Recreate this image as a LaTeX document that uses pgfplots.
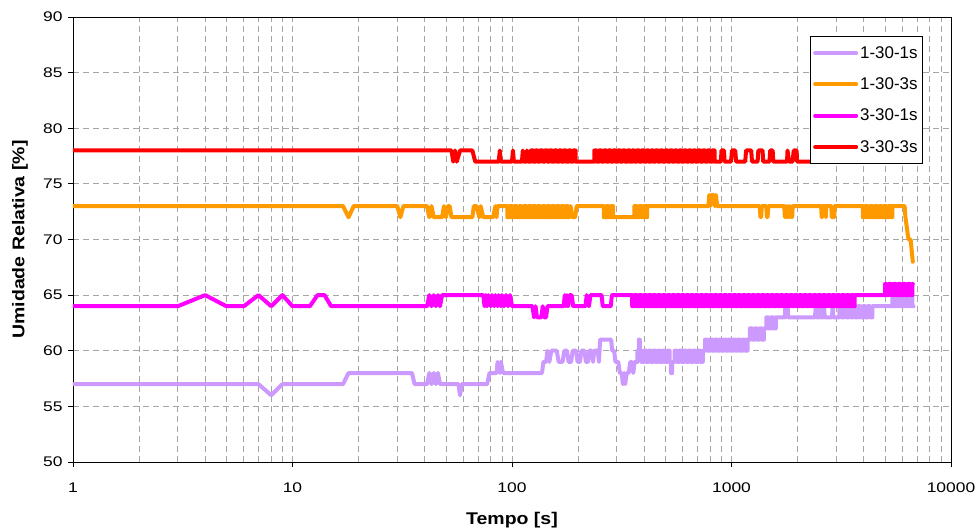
\documentclass[border=0pt]{standalone}
\usepackage{fontspec}
\setmainfont{Liberation Sans}
\newfontfamily\tickfont{Liberation Sans}[FakeStretch=1.25]
\newfontfamily\labelfont{Liberation Sans}[FakeStretch=1.15]
\usepackage{pgfplots}
\pgfplotsset{compat=1.18}
\definecolor{cLav}{HTML}{CC99FF}
\definecolor{cOra}{HTML}{FF9900}
\definecolor{cPin}{HTML}{FF00FF}
\definecolor{cRed}{HTML}{FF0000}
\definecolor{cGrid}{HTML}{A6A6A6}
\begin{document}
\begin{tikzpicture}
\path[use as bounding box] (-73bp,-69bp) rectangle (903bp,462bp);
\begin{axis}[
  scale only axis, width=878bp, height=445bp,
  at={(0,0)}, anchor=south west,
  xmode=log, xmin=1, xmax=10000, ymin=50, ymax=90,
  xtick={1,10,100,1000,10000}, xticklabels={1,10,100,1000,10000},
  ytick={50,55,60,65,70,75,80,85,90},
  /pgf/number format/assume math mode=true,
  tick label style={font=\tickfont\fontsize{14}{16}\selectfont, black},
  xticklabel style={yshift=-12bp},
  yticklabel style={xshift=-2bp},
  tick pos=left, tick align=outside, major tick length=5bp, minor tick length=0bp,
  tick style={black, line width=0.8bp},
  axis line style={black, line width=0.9bp},
  xmajorgrids=true, xminorgrids=true, ymajorgrids=true,
  major grid style={cGrid, line width=0.8bp, dash pattern=on 6bp off 4bp},
  minor grid style={cGrid, line width=0.8bp, dash pattern=on 6bp off 4bp},
  xlabel={Tempo [s]}, ylabel={Umidade Relativa [\%]},
  label style={font=\labelfont\bfseries\fontsize{17}{20}\selectfont},
  xlabel style={at={(axis description cs:0.5,-0.1303)}, anchor=center},
  ylabel style={at={(axis description cs:-0.0604,0.5)}, anchor=center},
  legend style={at={(rel axis cs:0.9681,0.9573)}, anchor=north east, draw=black, fill=white,
    line width=0.8bp, font=\fontsize{17}{20}\selectfont, inner xsep=3bp, inner ysep=8bp,
    row sep=14bp, nodes={inner sep=2bp}},
  legend cell align=left,
  legend image code/.code={\draw[#1] (0bp,0bp) -- (41bp,0bp);},
  every axis plot/.append style={line width=4bp, line join=round, line cap=round},
]
\addplot[cLav] coordinates {(1,57)(7,57)(8,56)(9,57)(17,57)(18,58)(35,58)(36,57)(41,57)(42,58)(43,57)(44,58)(45,57)(46,58)(47,57)(57,57)(58,56)(59,57)(77,57)(79,58)(85,58)(86,59)(88,58)(89,59)(91,58)(137,58)(139,59)(143,59)(145,60)(148,59)(151,60)(160,60)(163,59)(170,59)(173,60)(178,60)(181,59)(186,59)(189,60)(196,60)(199,59)(204,59)(207,60)(214,60)(217,59)(222,59)(225,60)(231,60)(234,59)(237,60)(246,60)(249,59)(252,61)(283,61)(286,60)(292,60)(296,59)(305,59)(310,58)(316,58)(320,57)(324,58)(328,57)(333,58)(340,58)(346,59)(352,59)(357,58)(362,59)(368,59)(373,59)(373,60)(378,60)(378,61)(382,61)(382,60)(389,60)(389,59)(399,59)(399,60)(409,60)(409,59)(419,59)(419,60)(430,60)(430,59)(440,59)(440,60)(451,60)(451,59)(463,59)(463,60)(474,60)(474,59)(486,59)(486,60)(498,60)(498,59)(511,59)(511,60)(523,60)(523,59)(530,59)(530,58)(537,58)(537,59)(550,59)(550,60)(564,60)(564,59)(578,59)(578,60)(592,60)(592,59)(607,59)(607,60)(622,60)(622,59)(638,59)(638,60)(654,60)(654,59)(670,59)(670,60)(687,60)(687,59)(704,59)(704,60)(722,60)(722,59)(740,59)(740,60)(758,60)(758,61)(777,61)(777,60)(797,60)(797,61)(817,61)(817,60)(837,60)(837,61)(858,61)(858,60)(879,60)(879,61)(901,61)(901,60)(924,60)(924,61)(947,61)(947,60)(971,60)(971,61)(995,61)(995,60)(1020,60)(1020,61)(1045,61)(1045,60)(1072,60)(1072,61)(1098,61)(1098,60)(1126,60)(1126,61)(1154,61)(1154,60)(1183,60)(1183,61)(1212,61)(1212,62)(1243,62)(1243,61)(1274,61)(1274,62)(1306,62)(1306,61)(1338,61)(1338,62)(1372,62)(1372,61)(1406,61)(1406,62)(1441,62)(1441,63)(1477,63)(1477,62)(1514,62)(1514,63)(1552,63)(1552,62)(1591,62)(1591,63)(1750,63)(1760,64)(1775,63)(1800,64)(1815,63)(2400,63)(2420,64)(2440,63)(2500,63)(2520,64)(2540,63)(2620,63)(2640,64)(2660,63)(2870,63)(2890,64)(2910,63)(3099,63)(3099,64)(3176,64)(3176,63)(3256,63)(3256,64)(3337,64)(3337,63)(3420,63)(3420,64)(3506,64)(3506,63)(3594,63)(3594,64)(3684,64)(3684,63)(3776,63)(3776,64)(3870,64)(3870,63)(3967,63)(3967,64)(4066,64)(4066,63)(4168,63)(4168,64)(4272,64)(4272,63)(4379,63)(4379,64)(5400,64)(5400,65)(5468,65)(5468,64)(5605,64)(5605,65)(5745,65)(5745,64)(5889,64)(5889,65)(6036,65)(6036,64)(6187,64)(6187,65)(6342,65)(6342,64)(6500,64)(6500,65)(6663,65)(6663,64)(6750,64)};
\addlegendentry{1-30-1s}
\addplot[cOra] coordinates {(1,73)(17,73)(18,72)(19,73)(30,73)(31,72)(32,73)(41,73)(42,72)(43,73)(44,72)(48,72)(49,73)(50,72)(51,73)(52,73)(53,72)(66,72)(67,73)(69,73)(71,72)(72,73)(74,72)(82,72)(84,73)(85,72)(86,73)(95.3,73)(95.3,72)(97.6,72)(97.6,73)(100,73)(100,72)(102.5,72)(102.5,73)(105,73)(105,72)(108,72)(108,73)(110,73)(110,72)(113,72)(113,73)(116,73)(116,72)(119,72)(119,73)(122,73)(122,72)(125,72)(125,73)(128,73)(128,72)(131,72)(131,73)(134,73)(134,72)(138,72)(138,73)(141,73)(141,72)(145,72)(145,73)(148,73)(148,72)(152,72)(152,73)(156,73)(156,72)(160,72)(160,73)(164,73)(164,72)(168,72)(168,73)(172,73)(172,72)(176,72)(176,73)(180,73)(180,72)(183,72)(185,73)(188,72)(194,72)(197,73)(262,73)(262,72)(269,72)(269,73)(275,73)(275,72)(282,72)(282,73)(289,73)(289,72)(361,72)(361,73)(370,73)(370,72)(380,72)(380,73)(389,73)(389,72)(399,72)(399,73)(409,73)(409,72)(413,72)(413,73)(785,73)(792,74)(800,73)(810,74)(830,74)(840,73)(850,74)(860,73)(1345,73)(1355,72)(1365,72)(1375,73)(1440,73)(1450,72)(1460,72)(1470,73)(1740,73)(1750,72)(1770,73)(1790,72)(1810,73)(1830,72)(1850,73)(1870,72)(1890,72)(1900,73)(2560,73)(2575,72)(2590,72)(2600,73)(2680,73)(2690,72)(2700,73)(2850,73)(2860,72)(2940,72)(2950,73)(3967,73)(3967,72)(4066,72)(4066,73)(4168,73)(4168,72)(4272,72)(4272,73)(4379,73)(4379,72)(4488,72)(4488,73)(4600,73)(4600,72)(4715,72)(4715,73)(4833,73)(4833,72)(4954,72)(4954,73)(5078,73)(5078,72)(5205,72)(5205,73)(5335,73)(5335,72)(5400,72)(5400,73)(6150,73)(6200,72)(6300,71)(6400,70)(6550,70)(6620,69)(6700,68)};
\addlegendentry{1-30-3s}
\addplot[cPin] coordinates {(1,64)(3,64)(4,65)(5,64)(6,64)(7,65)(8,64)(9,65)(10,64)(12,64)(13,65)(14,65)(15,64)(41,64)(42,65)(43,64)(44,65)(45,64)(46,65)(47,64)(48,65)(74,65)(75,64)(76,65)(77,64)(78,65)(80,64)(81,65)(83,64)(84,65)(86,64)(87,65)(89,64)(90,65)(92,64)(94,65)(96,64)(98,65)(100,64)(124,64)(126,63)(128,64)(130,63)(136,63)(138,64)(140,63)(143,63)(145,64)(172,64)(174,65)(176,64)(178,65)(180,64)(183,65)(187,65)(190,64)(216,64)(219,65)(224,64)(228,65)(256,65)(259,64)(282,64)(285,65)(345,65)(353,65)(353,64)(361,64)(361,65)(370,65)(370,64)(380,64)(380,65)(389,65)(389,64)(399,64)(399,65)(409,65)(409,64)(419,64)(419,65)(430,65)(430,64)(440,64)(440,65)(451,65)(451,64)(463,64)(463,65)(474,65)(474,64)(486,64)(486,65)(498,65)(498,64)(511,64)(511,65)(523,65)(523,64)(537,64)(537,65)(550,65)(550,64)(564,64)(564,65)(578,65)(578,64)(592,64)(592,65)(607,65)(607,64)(622,64)(622,65)(638,65)(638,64)(654,64)(654,65)(670,65)(670,64)(687,64)(687,65)(704,65)(704,64)(722,64)(722,65)(740,65)(740,64)(758,64)(758,65)(777,65)(777,64)(797,64)(797,65)(817,65)(817,64)(837,64)(837,65)(858,65)(858,64)(879,64)(879,65)(901,65)(901,64)(924,64)(924,65)(947,65)(947,64)(971,64)(971,65)(995,65)(995,64)(1020,64)(1020,65)(1045,65)(1045,64)(1072,64)(1072,65)(1098,65)(1098,64)(1126,64)(1126,65)(1154,65)(1154,64)(1183,64)(1183,65)(1212,65)(1212,64)(1243,64)(1243,65)(1274,65)(1274,64)(1306,64)(1306,65)(1338,65)(1338,64)(1372,64)(1372,65)(1406,65)(1406,64)(1441,64)(1441,65)(1477,65)(1477,64)(1514,64)(1514,65)(1552,65)(1552,64)(1591,64)(1591,65)(1631,65)(1631,64)(1671,64)(1671,65)(1713,65)(1713,64)(1756,64)(1756,65)(1800,65)(1800,64)(1845,64)(1845,65)(1891,65)(1891,64)(1938,64)(1938,65)(1987,65)(1987,64)(2037,64)(2037,65)(2087,65)(2087,64)(2140,64)(2140,65)(2193,65)(2193,64)(2248,64)(2248,65)(2304,65)(2304,64)(2362,64)(2362,65)(2421,65)(2421,64)(2481,64)(2481,65)(2543,65)(2543,64)(2607,64)(2607,65)(2672,65)(2672,64)(2739,64)(2739,65)(2807,65)(2807,64)(2878,64)(2878,65)(2950,65)(2950,64)(3023,64)(3023,65)(3099,65)(3099,64)(3176,64)(3176,65)(3256,65)(3256,64)(3337,64)(3337,65)(3420,65)(3420,64)(3506,64)(3506,65)(3594,65)(3594,64)(3640,64)(3640,65)(5004,65)(5004,66)(5078,66)(5078,65)(5205,65)(5205,66)(5335,66)(5335,65)(5468,65)(5468,66)(5605,66)(5605,65)(5745,65)(5745,66)(5889,66)(5889,65)(6036,65)(6036,66)(6187,66)(6187,65)(6342,65)(6342,66)(6500,66)(6500,65)(6663,65)(6663,66)(6700,66)};
\addlegendentry{3-30-1s}
\addplot[cRed] coordinates {(1,78)(53,78)(54,77)(55,78)(56,77)(58,78)(66,78)(68,77)(87,77)(88,78)(89,77)(100,77)(101,78)(102,77)(111,77)(112,78)(113,77)(116,77)(117,78)(118,77)(122,77)(122,78)(125,78)(125,77)(128,77)(128,78)(131,78)(131,77)(134,77)(134,78)(138,78)(138,77)(141,77)(141,78)(145,78)(145,77)(148,77)(148,78)(152,78)(152,77)(156,77)(156,78)(160,78)(160,77)(164,77)(164,78)(168,78)(168,77)(172,77)(172,78)(176,78)(176,77)(181,77)(181,78)(185,78)(185,77)(190,77)(190,78)(195,78)(195,77)(232,77)(237,77)(237,78)(243,78)(243,77)(249,77)(249,78)(256,78)(256,77)(262,77)(262,78)(269,78)(269,77)(275,77)(275,78)(282,78)(282,77)(289,77)(289,78)(297,78)(297,77)(304,77)(304,78)(312,78)(312,77)(319,77)(319,78)(327,78)(327,77)(336,77)(336,78)(344,78)(344,77)(353,77)(353,78)(361,78)(361,77)(370,77)(370,78)(380,78)(380,77)(389,77)(389,78)(399,78)(399,77)(409,77)(409,78)(419,78)(419,77)(430,77)(430,78)(440,78)(440,77)(451,77)(451,78)(463,78)(463,77)(474,77)(474,78)(486,78)(486,77)(498,77)(498,78)(511,78)(511,77)(523,77)(523,78)(537,78)(537,77)(550,77)(550,78)(564,78)(564,77)(578,77)(578,78)(592,78)(592,77)(607,77)(607,78)(622,78)(622,77)(638,77)(638,78)(654,78)(654,77)(670,77)(670,78)(687,78)(687,77)(704,77)(704,78)(722,78)(722,77)(740,77)(740,78)(758,78)(758,77)(777,77)(777,78)(797,78)(797,77)(817,77)(817,78)(837,78)(837,77)(895,77)(900,78)(925,78)(930,77)(995,77)(1005,78)(1040,78)(1050,77)(1155,77)(1165,78)(1230,78)(1240,77)(1315,77)(1325,78)(1385,78)(1395,77)(1490,77)(1500,78)(1540,78)(1550,77)(1790,77)(1800,78)(1830,77)(1900,77)(1920,78)(1980,78)(1990,77)(2450,77)(2470,78)(2490,77)(2700,77)(2720,78)(2740,77)(2950,77)(2970,78)(2990,77)(3099,77)(3099,78)(3176,78)(3176,77)(3256,77)(3256,78)(3337,78)(3337,77)(3420,77)(3420,78)(3506,78)(3506,77)(3594,77)(3594,78)(3684,78)(3684,77)(3776,77)(3776,78)(3870,78)(3870,77)(3967,77)(3967,78)(4066,78)(4066,77)(4168,77)(4168,78)(4272,78)(4272,77)(4379,77)(4379,78)(4488,78)(4488,77)(4600,77)(4600,78)(4715,78)(4715,77)(4833,77)(4833,78)(4954,78)(4954,77)(5078,77)(5078,78)(5205,78)(5205,77)(5335,77)(5335,78)(5468,78)(5468,77)(5605,77)(5605,78)(5745,78)(5745,77)(5889,77)(5889,78)(6000,78)(6000,77)};
\addlegendentry{3-30-3s}
\end{axis}
\end{tikzpicture}
\end{document}
